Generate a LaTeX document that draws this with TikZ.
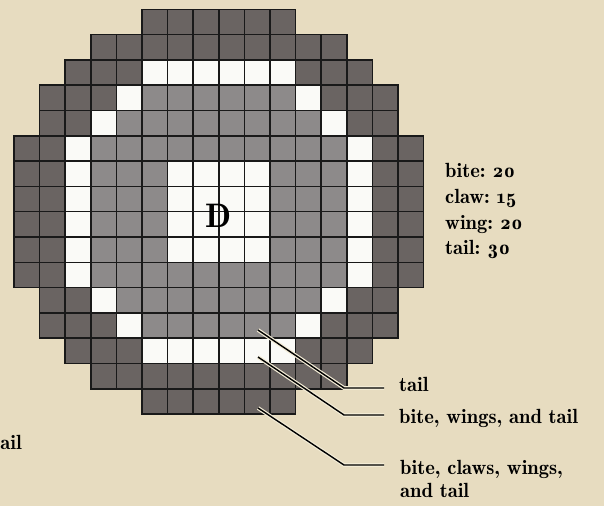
\documentclass[tikz,border=0pt]{standalone}
\usepackage{fontspec}
\setmainfont{lmromandemi10-regular.otf}[Numbers=OldStyle]
\usetikzlibrary{calc}
\definecolor{parch}{HTML}{E7DCC0}
\definecolor{darksq}{HTML}{6A6462}
\definecolor{midsq}{HTML}{8D8A8A}
\definecolor{litesq}{HTML}{FAFAF7}
\definecolor{halo}{HTML}{F3ECD6}
\tikzstyle{sq}=[draw=black!90, line width=1.5pt]
\tikzstyle{lbl}=[inner sep=0, font=\fontsize{20.5}{25.8}\selectfont\frenchspacing]
\tikzstyle{leader}=[line width=1.4pt, preaction={draw=halo, line width=3.8pt}]

\begin{document}
\begin{tikzpicture}[x=1pt, y=-1pt]
\useasboundingbox (0,0) rectangle (604,506);
\fill[parch] (0,0) rectangle (604,506);
\begin{scope}[shift={(14,9.3)}, x=25.6pt, y=-25.3pt]
% outer band
\foreach \r/\a/\b in {0/5/10,1/3/12,2/2/13,3/1/14,4/1/14,5/0/15,6/0/15,7/0/15,8/0/15,9/0/15,10/0/15,11/1/14,12/1/14,13/2/13,14/3/12,15/5/10}
  \fill[darksq] (\a,\r) rectangle (\b+1,\r+1);
% inside the ring
\foreach \r/\a/\b in {3/5/10,4/4/11,5/3/12,6/3/12,7/3/12,8/3/12,9/3/12,10/3/12,11/4/11,12/5/10}
  \fill[midsq] (\a,\r) rectangle (\b+1,\r+1);
% white ring and centre
\fill[litesq] (5,2) rectangle (11,3) (5,13) rectangle (11,14) (2,5) rectangle (3,11) (13,5) rectangle (14,11);
\foreach \c/\r in {4/3,11/3,3/4,12/4,3/11,12/11,4/12,11/12}
  \fill[litesq] (\c,\r) rectangle ++(1,1);
\fill[litesq] (6,6) rectangle (10,10);
% cell borders
\foreach \r/\a/\b in {0/5/10,1/3/12,2/2/13,3/1/14,4/1/14,5/0/15,6/0/15,7/0/15,8/0/15,9/0/15,10/0/15,11/1/14,12/1/14,13/2/13,14/3/12,15/5/10}
  \foreach \c in {\a,...,\b}
    \draw[sq] (\c,\r) rectangle ++(1,1);
\node[inner sep=0, font=\fontsize{34}{34}\selectfont] (dragon) at (8,8.17) {D};
\end{scope}

\node[lbl, anchor=north west, align=left] (stats) at (445,163) {bite: 20\\claw: 15\\wing: 20\\tail: 30};

\coordinate (s1) at (258,330); \coordinate (k1) at (344,388);
\coordinate (s2) at (258,357); \coordinate (k2) at (344,415);
\coordinate (s3) at (258,408); \coordinate (k3) at (344,465);
\node[lbl, inner xsep=15pt, anchor=base west] (tl) at (384,391) {tail};
\node[lbl, inner xsep=15pt, anchor=base west] (bwt) at (384,423) {bite, wings, and tail};
\node[lbl, inner xsep=16pt, anchor=north west, align=left, font=\fontsize{20.5}{23}\selectfont\frenchspacing] (bcwt) at (384,460) {bite, claws, wings,\\and tail};
\draw[leader] (s1) -- (k1) -- (k1 -| tl.west);
\draw[leader] (s2) -- (k2) -- (k2 -| bwt.west);
\draw[leader] (s3) -- (k3) -- (k3 -| bcwt.west);

\node[lbl, anchor=base east] (cut) at (22,449) {ail};
\end{tikzpicture}
\end{document}
